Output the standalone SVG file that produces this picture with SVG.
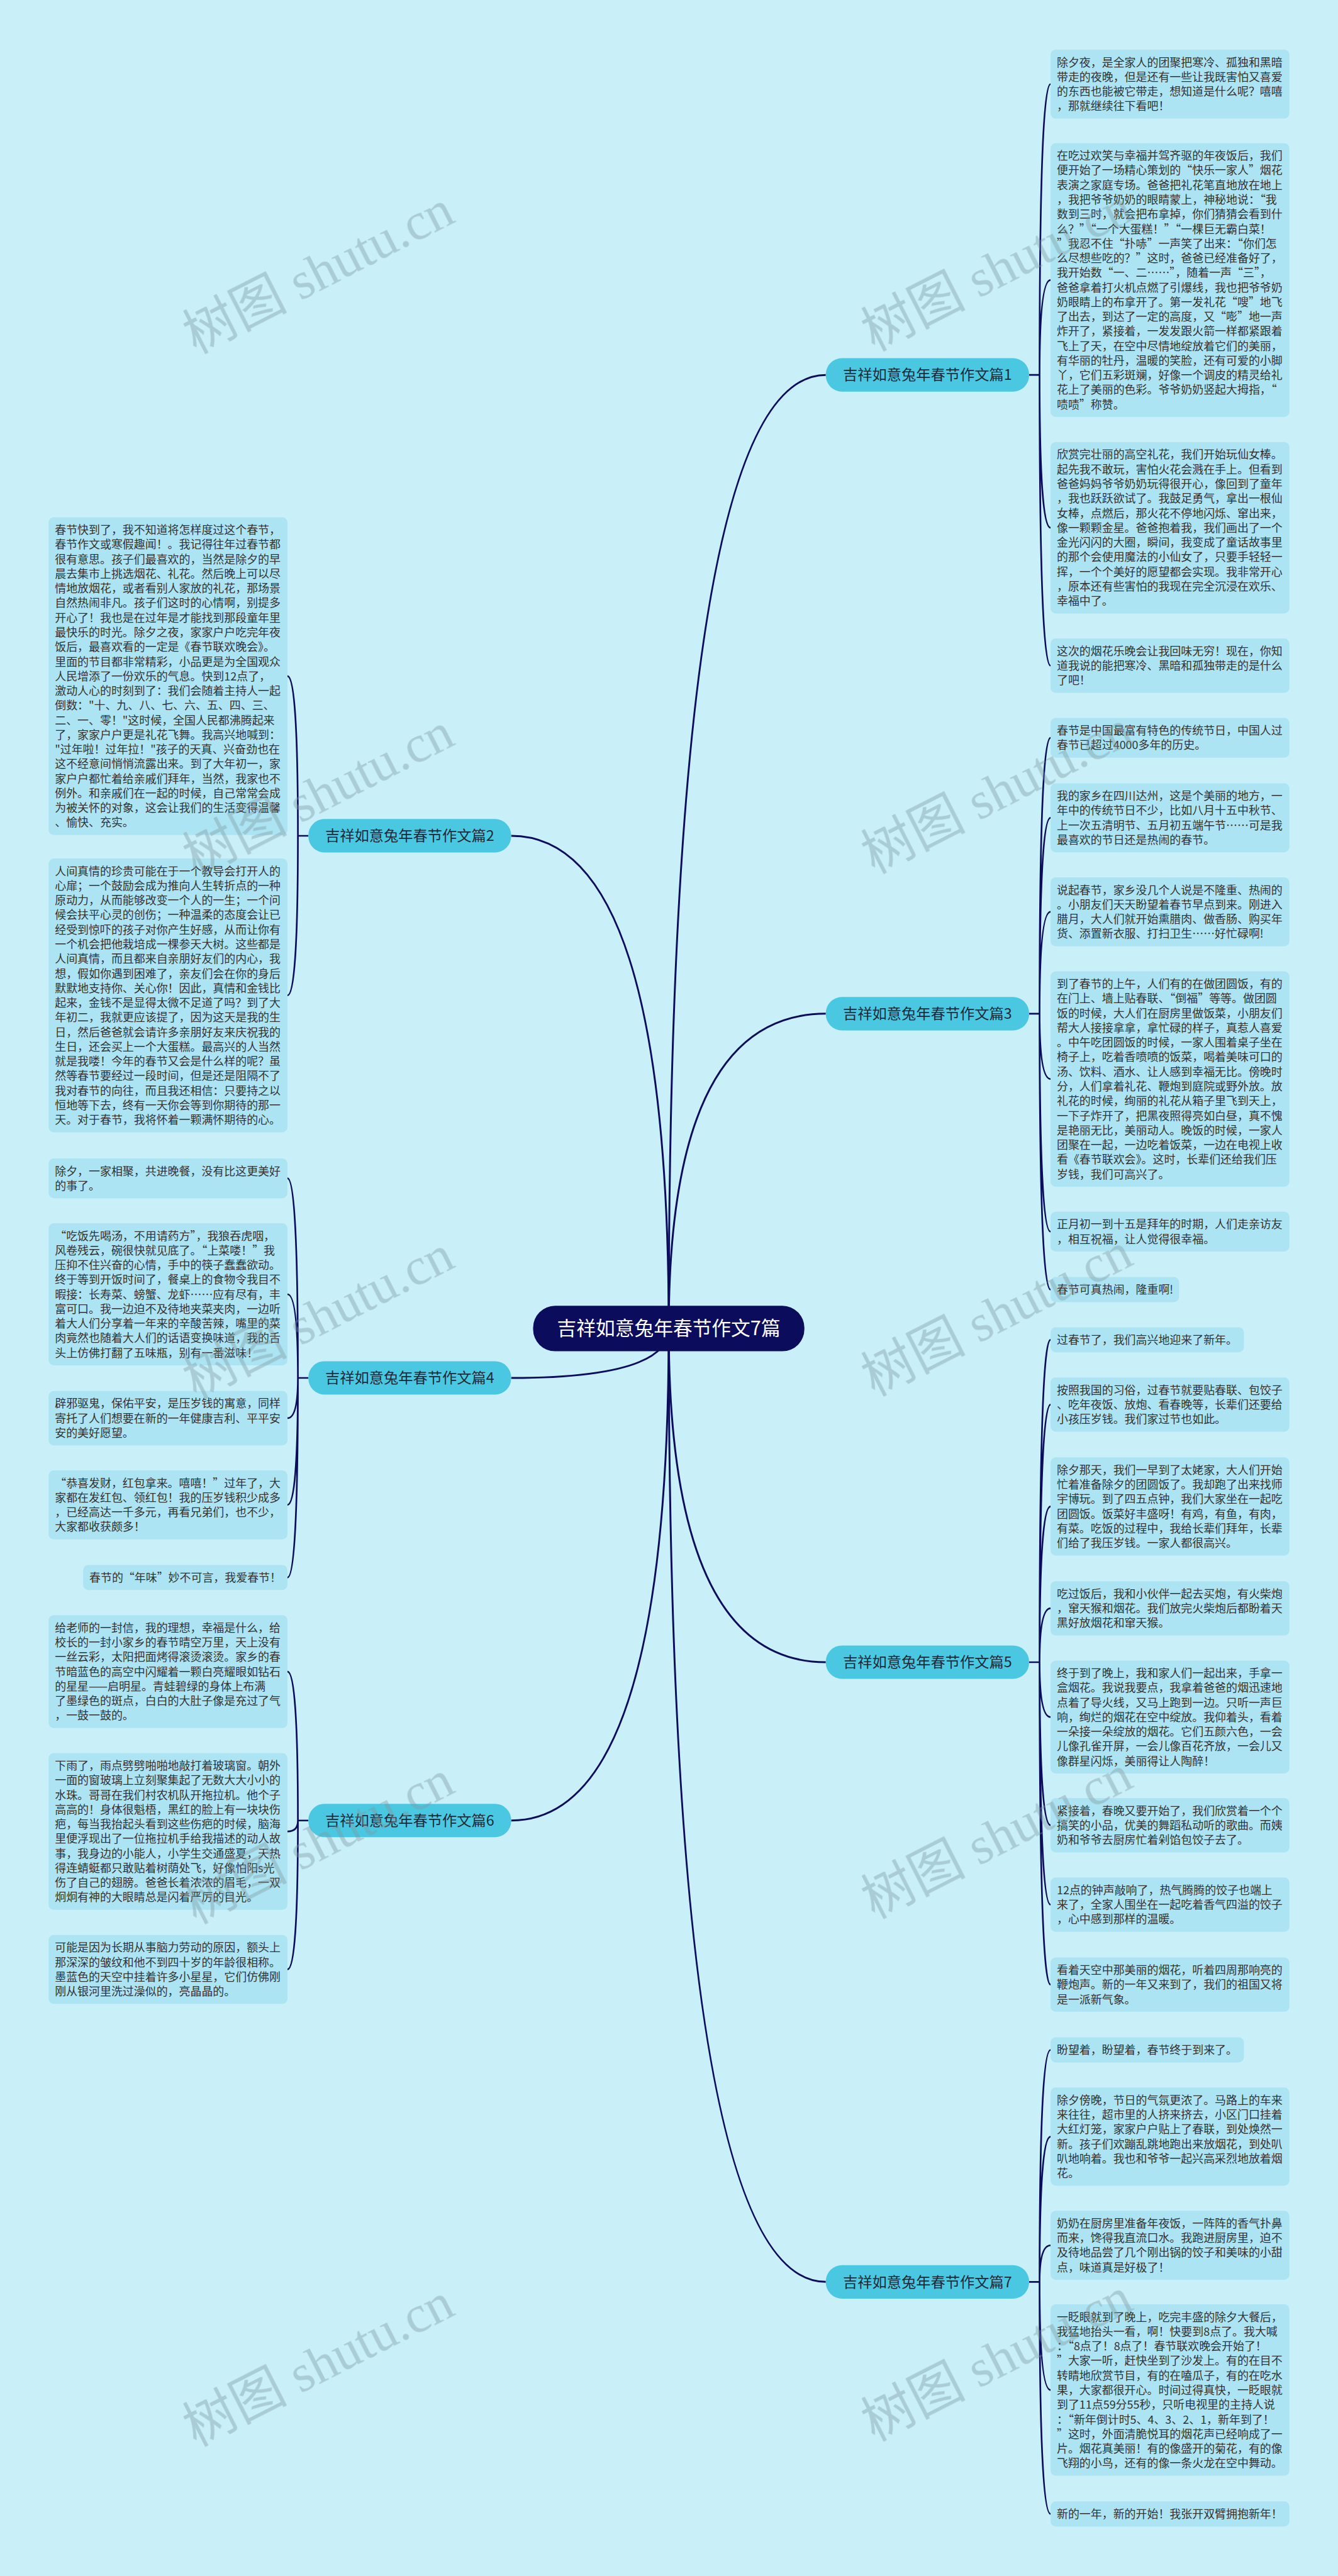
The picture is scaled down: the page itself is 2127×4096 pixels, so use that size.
<svg xmlns="http://www.w3.org/2000/svg" width="2127" height="4096" viewBox="0 0 2127 4096">
<style>
.bg{fill:#c9eff8}
.box{fill:#ade4f3}
.t{font-family:"Noto Sans CJK SC","Liberation Sans",sans-serif;font-size:21.6px;fill:#333333}
.br{fill:#4ac8e2}
.brt{font-family:"Noto Sans CJK SC","Liberation Sans",sans-serif;font-size:28px;fill:#1e2a3a;text-anchor:middle}
.root{fill:#0c0c5c}
.rt{font-family:"Noto Sans CJK SC","Liberation Sans",sans-serif;font-size:37px;fill:#ffffff;text-anchor:middle}
.l1{fill:none;stroke:#0c0c5c;stroke-width:3.6}
.l2{fill:none;stroke:#0c0c5c;stroke-width:3.2}
.wm{font-family:"Liberation Serif","Noto Sans CJK SC",serif;font-size:100px;fill:#7d98a1;text-anchor:middle}
</style>
<rect class="bg" x="0" y="0" width="2127" height="4096"/>
<g transform="scale(0.83086)">
<g id="connectors">
<path class="l1" d="M1279.5,2542.5 Q1279.5,717.5 1580,717.5"/>
<path class="l1" d="M1279.5,2542.5 Q1279.5,1940 1580,1940"/>
<path class="l1" d="M1279.5,2542.5 Q1279.5,3181 1580,3181"/>
<path class="l1" d="M1279.5,2542.5 Q1279.5,4367 1580,4367"/>
<path class="l1" d="M1279.5,2542.5 Q1279.5,1599.5 978,1599.5"/>
<path class="l1" d="M1279.5,2542.5 Q1279.5,2637 978,2637"/>
<path class="l1" d="M1279.5,2542.5 Q1279.5,3484 978,3484"/>
<path class="l2" d="M1969,717.5 H1989 M1989,717.5 Q1989,161 2010,161 M1989,717.5 Q1989,536 2010,536 M1989,717.5 Q1989,1010 2010,1010 M1989,717.5 Q1989,1274 2010,1274"/>
<path class="l2" d="M1969,1940 H1989 M1989,1940 Q1989,1412 2010,1412 M1989,1940 Q1989,1565 2010,1565 M1989,1940 Q1989,1745 2010,1745 M1989,1940 Q1989,2065 2010,2065 M1989,1940 Q1989,2357 2010,2357 M1989,1940 Q1989,2468 2010,2468"/>
<path class="l2" d="M1969,3181 H1989 M1989,3181 Q1989,2564 2010,2564 M1989,3181 Q1989,2688 2010,2688 M1989,3181 Q1989,2883 2010,2883 M1989,3181 Q1989,3078 2010,3078 M1989,3181 Q1989,3286 2010,3286 M1989,3181 Q1989,3493 2010,3493 M1989,3181 Q1989,3645 2010,3645 M1989,3181 Q1989,3798 2010,3798"/>
<path class="l2" d="M1969,4367 H1989 M1989,4367 Q1989,3923 2010,3923 M1989,4367 Q1989,4089 2010,4089 M1989,4367 Q1989,4297 2010,4297 M1989,4367 Q1989,4574 2010,4574 M1989,4367 Q1989,4811 2010,4811"/>
<path class="l2" d="M590,1599.5 H570 M570,1599.5 Q570,1294 550,1294 M570,1599.5 Q570,1905 550,1905"/>
<path class="l2" d="M590,2637 H570 M570,2637 Q570,2255 550,2255 M570,2637 Q570,2477 550,2477 M570,2637 Q570,2714 550,2714 M570,2637 Q570,2880 550,2880 M570,2637 Q570,3019 550,3019"/>
<path class="l2" d="M590,3484 H570 M570,3484 Q570,3199 550,3199 M570,3484 Q570,3505 550,3505 M570,3484 Q570,3769 550,3769"/>
</g>
<g id="root"><rect class="root" x="1020" y="2499" width="519" height="87" rx="42"/><text class="rt" x="1279.5" y="2555.5">吉祥如意兔年春节作文7篇</text></g>
<g id="b1"><rect class="br" x="1580" y="685.5" width="389" height="64" rx="31"/><text class="brt" x="1774.5" y="727.5">吉祥如意兔年春节作文篇1</text></g>
<g id="b3"><rect class="br" x="1580" y="1908" width="389" height="64" rx="31"/><text class="brt" x="1774.5" y="1950">吉祥如意兔年春节作文篇3</text></g>
<g id="b5"><rect class="br" x="1580" y="3149" width="389" height="64" rx="31"/><text class="brt" x="1774.5" y="3191">吉祥如意兔年春节作文篇5</text></g>
<g id="b7"><rect class="br" x="1580" y="4335" width="389" height="64" rx="31"/><text class="brt" x="1774.5" y="4377">吉祥如意兔年春节作文篇7</text></g>
<g id="b2"><rect class="br" x="590" y="1567.5" width="388" height="64" rx="31"/><text class="brt" x="784" y="1609.5">吉祥如意兔年春节作文篇2</text></g>
<g id="b4"><rect class="br" x="590" y="2605" width="388" height="64" rx="31"/><text class="brt" x="784" y="2647">吉祥如意兔年春节作文篇4</text></g>
<g id="b6"><rect class="br" x="590" y="3452" width="388" height="64" rx="31"/><text class="brt" x="784" y="3494">吉祥如意兔年春节作文篇6</text></g>

<g id="r1"><rect class="box" x="2010" y="95" width="457" height="132" rx="10"/><text class="t" x="2022" y="127"><tspan x="2022">除夕夜，是全家人的团聚把寒冷、孤独和黑暗</tspan><tspan x="2022" dy="28">带走的夜晚，但是还有一些让我既害怕又喜爱</tspan><tspan x="2022" dy="28">的东西也能被它带走，想知道是什么呢？嘻嘻</tspan><tspan x="2022" dy="28">，那就继续往下看吧！</tspan></text></g>
<g id="r2"><rect class="box" x="2010" y="274" width="457" height="524" rx="10"/><text class="t" x="2022" y="306"><tspan x="2022">在吃过欢笑与幸福并驾齐驱的年夜饭后，我们</tspan><tspan x="2022" dy="28">便开始了一场精心策划的“快乐一家人”烟花</tspan><tspan x="2022" dy="28">表演之家庭专场。爸爸把礼花笔直地放在地上</tspan><tspan x="2022" dy="28">，我把爷爷奶奶的眼睛蒙上，神秘地说：“我</tspan><tspan x="2022" dy="28">数到三时，就会把布拿掉，你们猜猜会看到什</tspan><tspan x="2022" dy="28">么？”“一个大蛋糕！”“一棵巨无霸白菜！</tspan><tspan x="2022" dy="28">”我忍不住“扑哧”一声笑了出来：“你们怎</tspan><tspan x="2022" dy="28">么尽想些吃的？”这时，爸爸已经准备好了，</tspan><tspan x="2022" dy="28">我开始数“一、二……”，随着一声“三”，</tspan><tspan x="2022" dy="28">爸爸拿着打火机点燃了引爆线，我也把爷爷奶</tspan><tspan x="2022" dy="28">奶眼睛上的布拿开了。第一发礼花“嗖”地飞</tspan><tspan x="2022" dy="28">了出去，到达了一定的高度，又“嘭”地一声</tspan><tspan x="2022" dy="28">炸开了，紧接着，一发发跟火箭一样都紧跟着</tspan><tspan x="2022" dy="28">飞上了天，在空中尽情地绽放着它们的美丽，</tspan><tspan x="2022" dy="28">有华丽的牡丹，温暖的笑脸，还有可爱的小脚</tspan><tspan x="2022" dy="28">丫，它们五彩斑斓，好像一个调皮的精灵给礼</tspan><tspan x="2022" dy="28">花上了美丽的色彩。爷爷奶奶竖起大拇指，“</tspan><tspan x="2022" dy="28">啧啧”称赞。</tspan></text></g>
<g id="r3"><rect class="box" x="2010" y="846" width="457" height="328" rx="10"/><text class="t" x="2022" y="878"><tspan x="2022">欣赏完壮丽的高空礼花，我们开始玩仙女棒。</tspan><tspan x="2022" dy="28">起先我不敢玩，害怕火花会溅在手上。但看到</tspan><tspan x="2022" dy="28">爸爸妈妈爷爷奶奶玩得很开心，像回到了童年</tspan><tspan x="2022" dy="28">，我也跃跃欲试了。我鼓足勇气，拿出一根仙</tspan><tspan x="2022" dy="28">女棒，点燃后，那火花不停地闪烁、窜出来，</tspan><tspan x="2022" dy="28">像一颗颗金星。爸爸抱着我，我们画出了一个</tspan><tspan x="2022" dy="28">金光闪闪的大圈，瞬间，我变成了童话故事里</tspan><tspan x="2022" dy="28">的那个会使用魔法的小仙女了，只要手轻轻一</tspan><tspan x="2022" dy="28">挥，一个个美好的愿望都会实现。我非常开心</tspan><tspan x="2022" dy="28">，原本还有些害怕的我现在完全沉浸在欢乐、</tspan><tspan x="2022" dy="28">幸福中了。</tspan></text></g>
<g id="r4"><rect class="box" x="2010" y="1222" width="457" height="104" rx="10"/><text class="t" x="2022" y="1254"><tspan x="2022">这次的烟花乐晚会让我回味无穷！现在，你知</tspan><tspan x="2022" dy="28">道我说的能把寒冷、黑暗和孤独带走的是什么</tspan><tspan x="2022" dy="28">了吧！</tspan></text></g>
<g id="r5"><rect class="box" x="2010" y="1374" width="457" height="76" rx="10"/><text class="t" x="2022" y="1406"><tspan x="2022">春节是中国最富有特色的传统节日，中国人过</tspan><tspan x="2022" dy="28">春节已超过4000多年的历史。</tspan></text></g>
<g id="r6"><rect class="box" x="2010" y="1499" width="457" height="132" rx="10"/><text class="t" x="2022" y="1531"><tspan x="2022">我的家乡在四川达州，这是个美丽的地方，一</tspan><tspan x="2022" dy="28">年中的传统节日不少，比如八月十五中秋节、</tspan><tspan x="2022" dy="28">上一次五清明节、五月初五端午节……可是我</tspan><tspan x="2022" dy="28">最喜欢的节日还是热闹的春节。</tspan></text></g>
<g id="r7"><rect class="box" x="2010" y="1679" width="457" height="132" rx="10"/><text class="t" x="2022" y="1711"><tspan x="2022">说起春节，家乡没几个人说是不隆重、热闹的</tspan><tspan x="2022" dy="28">。小朋友们天天盼望着春节早点到来。刚进入</tspan><tspan x="2022" dy="28">腊月，大人们就开始熏腊肉、做香肠、购买年</tspan><tspan x="2022" dy="28">货、添置新衣服、打扫卫生……好忙碌啊!</tspan></text></g>
<g id="r8"><rect class="box" x="2010" y="1859" width="457" height="412" rx="10"/><text class="t" x="2022" y="1891"><tspan x="2022">到了春节的上午，人们有的在做团圆饭，有的</tspan><tspan x="2022" dy="28">在门上、墙上贴春联、“倒福”等等。做团圆</tspan><tspan x="2022" dy="28">饭的时候，大人们在厨房里做饭菜，小朋友们</tspan><tspan x="2022" dy="28">帮大人接接拿拿，拿忙碌的样子，真惹人喜爱</tspan><tspan x="2022" dy="28">。中午吃团圆饭的时候，一家人围着桌子坐在</tspan><tspan x="2022" dy="28">椅子上，吃着香喷喷的饭菜，喝着美味可口的</tspan><tspan x="2022" dy="28">汤、饮料、酒水、让人感到幸福无比。傍晚时</tspan><tspan x="2022" dy="28">分，人们拿着礼花、鞭炮到庭院或野外放。放</tspan><tspan x="2022" dy="28">礼花的时候，绚丽的礼花从箱子里飞到天上，</tspan><tspan x="2022" dy="28">一下子炸开了，把黑夜照得亮如白昼，真不愧</tspan><tspan x="2022" dy="28">是艳丽无比，美丽动人。晚饭的时候，一家人</tspan><tspan x="2022" dy="28">团聚在一起，一边吃着饭菜，一边在电视上收</tspan><tspan x="2022" dy="28">看《春节联欢会》。这时，长辈们还给我们压</tspan><tspan x="2022" dy="28">岁钱，我们可高兴了。</tspan></text></g>
<g id="r9"><rect class="box" x="2010" y="2319" width="457" height="76" rx="10"/><text class="t" x="2022" y="2351"><tspan x="2022">正月初一到十五是拜年的时期，人们走亲访友</tspan><tspan x="2022" dy="28">，相互祝福，让人觉得很幸福。</tspan></text></g>
<g id="r10"><rect class="box" x="2010" y="2444" width="246" height="48" rx="10"/><text class="t" x="2022" y="2476">春节可真热闹，隆重啊!</text></g>
<g id="r11"><rect class="box" x="2010" y="2540" width="370" height="48" rx="10"/><text class="t" x="2022" y="2572">过春节了，我们高兴地迎来了新年。</text></g>
<g id="r12"><rect class="box" x="2010" y="2636" width="457" height="104" rx="10"/><text class="t" x="2022" y="2668"><tspan x="2022">按照我国的习俗，过春节就要贴春联、包饺子</tspan><tspan x="2022" dy="28">、吃年夜饭、放炮、看春晚等，长辈们还要给</tspan><tspan x="2022" dy="28">小孩压岁钱。我们家过节也如此。</tspan></text></g>
<g id="r13"><rect class="box" x="2010" y="2789" width="457" height="188" rx="10"/><text class="t" x="2022" y="2821"><tspan x="2022">除夕那天，我们一早到了太姥家，大人们开始</tspan><tspan x="2022" dy="28">忙着准备除夕的团圆饭了。我却跑了出来找师</tspan><tspan x="2022" dy="28">宇博玩。到了四五点钟，我们大家坐在一起吃</tspan><tspan x="2022" dy="28">团圆饭。饭菜好丰盛呀！有鸡，有鱼，有肉，</tspan><tspan x="2022" dy="28">有菜。吃饭的过程中，我给长辈们拜年，长辈</tspan><tspan x="2022" dy="28">们给了我压岁钱。一家人都很高兴。</tspan></text></g>
<g id="r14"><rect class="box" x="2010" y="3026" width="457" height="104" rx="10"/><text class="t" x="2022" y="3058"><tspan x="2022">吃过饭后，我和小伙伴一起去买炮，有火柴炮</tspan><tspan x="2022" dy="28">，窜天猴和烟花。我们放完火柴炮后都盼着天</tspan><tspan x="2022" dy="28">黑好放烟花和窜天猴。</tspan></text></g>
<g id="r15"><rect class="box" x="2010" y="3178" width="457" height="216" rx="10"/><text class="t" x="2022" y="3210"><tspan x="2022">终于到了晚上，我和家人们一起出来，手拿一</tspan><tspan x="2022" dy="28">盒烟花。我说我要点，我拿着爸爸的烟迅速地</tspan><tspan x="2022" dy="28">点着了导火线，又马上跑到一边。只听一声巨</tspan><tspan x="2022" dy="28">响，绚烂的烟花在空中绽放。我仰着头，看着</tspan><tspan x="2022" dy="28">一朵接一朵绽放的烟花。它们五颜六色，一会</tspan><tspan x="2022" dy="28">儿像孔雀开屏，一会儿像百花齐放，一会儿又</tspan><tspan x="2022" dy="28">像群星闪烁，美丽得让人陶醉！</tspan></text></g>
<g id="r16"><rect class="box" x="2010" y="3441" width="457" height="104" rx="10"/><text class="t" x="2022" y="3473"><tspan x="2022">紧接着，春晚又要开始了，我们欣赏着一个个</tspan><tspan x="2022" dy="28">搞笑的小品，优美的舞蹈私动听的歌曲。而姨</tspan><tspan x="2022" dy="28">奶和爷爷去厨房忙着剁馅包饺子去了。</tspan></text></g>
<g id="r17"><rect class="box" x="2010" y="3593" width="457" height="104" rx="10"/><text class="t" x="2022" y="3625"><tspan x="2022">12点的钟声敲响了，热气腾腾的饺子也端上</tspan><tspan x="2022" dy="28">来了，全家人围坐在一起吃着香气四溢的饺子</tspan><tspan x="2022" dy="28">，心中感到那样的温暖。</tspan></text></g>
<g id="r18"><rect class="box" x="2010" y="3746" width="457" height="104" rx="10"/><text class="t" x="2022" y="3778"><tspan x="2022">看着天空中那美丽的烟花，听着四周那响亮的</tspan><tspan x="2022" dy="28">鞭炮声。新的一年又来到了，我们的祖国又将</tspan><tspan x="2022" dy="28">是一派新气象。</tspan></text></g>
<g id="r19"><rect class="box" x="2010" y="3899" width="370" height="48" rx="10"/><text class="t" x="2022" y="3931">盼望着，盼望着，春节终于到来了。</text></g>
<g id="r20"><rect class="box" x="2010" y="3995" width="457" height="188" rx="10"/><text class="t" x="2022" y="4027"><tspan x="2022">除夕傍晚，节日的气氛更浓了。马路上的车来</tspan><tspan x="2022" dy="28">来往往，超市里的人挤来挤去，小区门口挂着</tspan><tspan x="2022" dy="28">大红灯笼，家家户户贴上了春联，到处焕然一</tspan><tspan x="2022" dy="28">新。孩子们欢蹦乱跳地跑出来放烟花，到处叭</tspan><tspan x="2022" dy="28">叭地响着。我也和爷爷一起兴高采烈地放着烟</tspan><tspan x="2022" dy="28">花。</tspan></text></g>
<g id="r21"><rect class="box" x="2010" y="4231" width="457" height="132" rx="10"/><text class="t" x="2022" y="4263"><tspan x="2022">奶奶在厨房里准备年夜饭，一阵阵的香气扑鼻</tspan><tspan x="2022" dy="28">而来，馋得我直流口水。我跑进厨房里，迫不</tspan><tspan x="2022" dy="28">及待地品尝了几个刚出锅的饺子和美味的小甜</tspan><tspan x="2022" dy="28">点，味道真是好极了！</tspan></text></g>
<g id="r22"><rect class="box" x="2010" y="4410" width="457" height="328" rx="10"/><text class="t" x="2022" y="4442"><tspan x="2022">一眨眼就到了晚上，吃完丰盛的除夕大餐后，</tspan><tspan x="2022" dy="28">我猛地抬头一看，啊！快要到8点了。我大喊</tspan><tspan x="2022" dy="28">：“8点了！8点了！春节联欢晚会开始了！</tspan><tspan x="2022" dy="28">”大家一听，赶快坐到了沙发上。有的在目不</tspan><tspan x="2022" dy="28">转睛地欣赏节目，有的在嗑瓜子，有的在吃水</tspan><tspan x="2022" dy="28">果，大家都很开心。时间过得真快，一眨眼就</tspan><tspan x="2022" dy="28">到了11点59分55秒，只听电视里的主持人说</tspan><tspan x="2022" dy="28">：“新年倒计时5、4、3、2、1，新年到了！</tspan><tspan x="2022" dy="28">”这时，外面清脆悦耳的烟花声已经响成了一</tspan><tspan x="2022" dy="28">片。烟花真美丽！有的像盛开的菊花，有的像</tspan><tspan x="2022" dy="28">飞翔的小鸟，还有的像一条火龙在空中舞动。</tspan></text></g>
<g id="r23"><rect class="box" x="2010" y="4787" width="457" height="48" rx="10"/><text class="t" x="2022" y="4819">新的一年，新的开始！我张开双臂拥抱新年！</text></g>

<g id="l1"><rect class="box" x="93" y="990" width="457" height="608" rx="10"/><text class="t" x="105" y="1022"><tspan x="105">春节快到了，我不知道将怎样度过这个春节，</tspan><tspan x="105" dy="28">春节作文或寒假趣闻！。我记得往年过春节都</tspan><tspan x="105" dy="28">很有意思。孩子们最喜欢的，当然是除夕的早</tspan><tspan x="105" dy="28">晨去集市上挑选烟花、礼花。然后晚上可以尽</tspan><tspan x="105" dy="28">情地放烟花，或者看别人家放的礼花，那场景</tspan><tspan x="105" dy="28">自然热闹非凡。孩子们这时的心情啊，别提多</tspan><tspan x="105" dy="28">开心了！我也是在过年是才能找到那段童年里</tspan><tspan x="105" dy="28">最快乐的时光。除夕之夜，家家户户吃完年夜</tspan><tspan x="105" dy="28">饭后，最喜欢看的一定是《春节联欢晚会》。</tspan><tspan x="105" dy="28">里面的节目都非常精彩，小品更是为全国观众</tspan><tspan x="105" dy="28">人民增添了一份欢乐的气息。快到12点了，</tspan><tspan x="105" dy="28">激动人心的时刻到了：我们会随着主持人一起</tspan><tspan x="105" dy="28">倒数："十、九、八、七、六、五、四、三、</tspan><tspan x="105" dy="28">二、一、零！"这时候，全国人民都沸腾起来</tspan><tspan x="105" dy="28">了，家家户户更是礼花飞舞。我高兴地喊到：</tspan><tspan x="105" dy="28">"过年啦！过年拉！"孩子的天真、兴奋劲也在</tspan><tspan x="105" dy="28">这不经意间悄悄流露出来。到了大年初一，家</tspan><tspan x="105" dy="28">家户户都忙着给亲戚们拜年，当然，我家也不</tspan><tspan x="105" dy="28">例外。和亲戚们在一起的时候，自己常常会成</tspan><tspan x="105" dy="28">为被关怀的对象，这会让我们的生活变得温馨</tspan><tspan x="105" dy="28">、愉快、充实。</tspan></text></g>
<g id="l2"><rect class="box" x="93" y="1643" width="457" height="524" rx="10"/><text class="t" x="105" y="1675"><tspan x="105">人间真情的珍贵可能在于一个教导会打开人的</tspan><tspan x="105" dy="28">心扉；一个鼓励会成为推向人生转折点的一种</tspan><tspan x="105" dy="28">原动力，从而能够改变一个人的一生；一个问</tspan><tspan x="105" dy="28">候会扶平心灵的创伤；一种温柔的态度会让已</tspan><tspan x="105" dy="28">经受到惊吓的孩子对你产生好感，从而让你有</tspan><tspan x="105" dy="28">一个机会把他栽培成一棵参天大树。这些都是</tspan><tspan x="105" dy="28">人间真情，而且都来自亲朋好友们的内心，我</tspan><tspan x="105" dy="28">想，假如你遇到困难了，亲友们会在你的身后</tspan><tspan x="105" dy="28">默默地支持你、关心你！因此，真情和金钱比</tspan><tspan x="105" dy="28">起来，金钱不是显得太微不足道了吗？到了大</tspan><tspan x="105" dy="28">年初二，我就更应该提了，因为这天是我的生</tspan><tspan x="105" dy="28">日，然后爸爸就会请许多亲朋好友来庆祝我的</tspan><tspan x="105" dy="28">生日，还会买上一个大蛋糕。最高兴的人当然</tspan><tspan x="105" dy="28">就是我喽！今年的春节又会是什么样的呢？虽</tspan><tspan x="105" dy="28">然等春节要经过一段时间，但是还是阻隔不了</tspan><tspan x="105" dy="28">我对春节的向往，而且我还相信：只要持之以</tspan><tspan x="105" dy="28">恒地等下去，终有一天你会等到你期待的那一</tspan><tspan x="105" dy="28">天。对于春节，我将怀着一颗满怀期待的心。</tspan></text></g>
<g id="l3"><rect class="box" x="93" y="2217" width="457" height="76" rx="10"/><text class="t" x="105" y="2249"><tspan x="105">除夕，一家相聚，共进晚餐，没有比这更美好</tspan><tspan x="105" dy="28">的事了。</tspan></text></g>
<g id="l4"><rect class="box" x="93" y="2341" width="457" height="272" rx="10"/><text class="t" x="105" y="2373"><tspan x="105">“吃饭先喝汤，不用请药方”，我狼吞虎咽，</tspan><tspan x="105" dy="28">风卷残云，碗很快就见底了。“上菜喽！”我</tspan><tspan x="105" dy="28">压抑不住兴奋的心情，手中的筷子蠢蠢欲动。</tspan><tspan x="105" dy="28">终于等到开饭时间了，餐桌上的食物令我目不</tspan><tspan x="105" dy="28">暇接：长寿菜、螃蟹、龙虾……应有尽有，丰</tspan><tspan x="105" dy="28">富可口。我一边迫不及待地夹菜夹肉，一边听</tspan><tspan x="105" dy="28">着大人们分享着一年来的辛酸苦辣，嘴里的菜</tspan><tspan x="105" dy="28">肉竟然也随着大人们的话语变换味道，我的舌</tspan><tspan x="105" dy="28">头上仿佛打翻了五味瓶，别有一番滋味！</tspan></text></g>
<g id="l5"><rect class="box" x="93" y="2662" width="457" height="104" rx="10"/><text class="t" x="105" y="2694"><tspan x="105">辟邪驱鬼，保佑平安，是压岁钱的寓意，同样</tspan><tspan x="105" dy="28">寄托了人们想要在新的一年健康吉利、平平安</tspan><tspan x="105" dy="28">安的美好愿望。</tspan></text></g>
<g id="l6"><rect class="box" x="93" y="2814" width="457" height="132" rx="10"/><text class="t" x="105" y="2846"><tspan x="105">“恭喜发财，红包拿来。嘻嘻！”过年了，大</tspan><tspan x="105" dy="28">家都在发红包、领红包！我的压岁钱积少成多</tspan><tspan x="105" dy="28">，已经高达一千多元，再看兄弟们，也不少，</tspan><tspan x="105" dy="28">大家都收获颇多！</tspan></text></g>
<g id="l7"><rect class="box" x="159" y="2995" width="391" height="48" rx="10"/><text class="t" x="171" y="3027">春节的“年味”妙不可言，我爱春节！</text></g>
<g id="l8"><rect class="box" x="93" y="3091" width="457" height="216" rx="10"/><text class="t" x="105" y="3123"><tspan x="105">给老师的一封信，我的理想，幸福是什么，给</tspan><tspan x="105" dy="28">校长的一封小家乡的春节晴空万里，天上没有</tspan><tspan x="105" dy="28">一丝云彩，太阳把面烤得滚烫滚烫。家乡的春</tspan><tspan x="105" dy="28">节暗蓝色的高空中闪耀着一颗白亮耀眼如钻石</tspan><tspan x="105" dy="28">的星星——启明星。青蛙碧绿的身体上布满</tspan><tspan x="105" dy="28">了墨绿色的斑点，白白的大肚子像是充过了气</tspan><tspan x="105" dy="28">，一鼓一鼓的。</tspan></text></g>
<g id="l9"><rect class="box" x="93" y="3355" width="457" height="300" rx="10"/><text class="t" x="105" y="3387"><tspan x="105">下雨了，雨点劈劈啪啪地敲打着玻璃窗。朝外</tspan><tspan x="105" dy="28">一面的窗玻璃上立刻聚集起了无数大大小小的</tspan><tspan x="105" dy="28">水珠。哥哥在我们村农机队开拖拉机。他个子</tspan><tspan x="105" dy="28">高高的！身体很魁梧，黑红的脸上有一块块伤</tspan><tspan x="105" dy="28">疤，每当我抬起头看到这些伤疤的时候，脑海</tspan><tspan x="105" dy="28">里便浮现出了一位拖拉机手给我描述的动人故</tspan><tspan x="105" dy="28">事，我身边的小能人，小学生交通盛夏，天热</tspan><tspan x="105" dy="28">得连蜻蜓都只敢贴着树荫处飞，好像怕阳s光</tspan><tspan x="105" dy="28">伤了自己的翅膀。爸爸长着浓浓的眉毛，一双</tspan><tspan x="105" dy="28">炯炯有神的大眼睛总是闪着严厉的目光。</tspan></text></g>
<g id="l10"><rect class="box" x="93" y="3703" width="457" height="132" rx="10"/><text class="t" x="105" y="3735"><tspan x="105">可能是因为长期从事脑力劳动的原因，额头上</tspan><tspan x="105" dy="28">那深深的皱纹和他不到四十岁的年龄很相称。</tspan><tspan x="105" dy="28">墨蓝色的天空中挂着许多小星星，它们仿佛刚</tspan><tspan x="105" dy="28">刚从银河里洗过澡似的，亮晶晶的。</tspan></text></g>

<g id="watermark" opacity="0.4">
<text class="wm" transform="translate(624,550) rotate(-27)">树图 shutu.cn</text>
<text class="wm" transform="translate(624,1550) rotate(-27)">树图 shutu.cn</text>
<text class="wm" transform="translate(624,2550) rotate(-27)">树图 shutu.cn</text>
<text class="wm" transform="translate(624,3555) rotate(-27)">树图 shutu.cn</text>
<text class="wm" transform="translate(624,4555) rotate(-27)">树图 shutu.cn</text>
<text class="wm" transform="translate(1922,545) rotate(-27)">树图 shutu.cn</text>
<text class="wm" transform="translate(1922,1545) rotate(-27)">树图 shutu.cn</text>
<text class="wm" transform="translate(1922,2545) rotate(-27)">树图 shutu.cn</text>
<text class="wm" transform="translate(1922,3545) rotate(-27)">树图 shutu.cn</text>
<text class="wm" transform="translate(1922,4545) rotate(-27)">树图 shutu.cn</text>
</g>
</g>
</svg>
